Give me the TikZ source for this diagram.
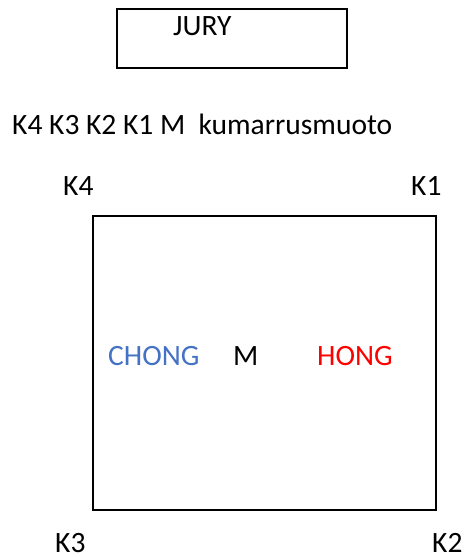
\documentclass[tikz,border=0pt]{standalone}
\usepackage{fontspec}
\setmainfont{Carlito}
\definecolor{chongblue}{HTML}{4472C4}
\definecolor{hongred}{HTML}{FF0000}
\begin{document}
\begin{tikzpicture}[x=1pt,y=-1pt]
        \tikzset{every node/.style={inner sep=0pt,anchor=base west,text depth=0pt,font=\fontsize{29.5}{35}\selectfont}}
        \useasboundingbox (0,0) rectangle (464,557);
        % jury
        \draw [black,line width=2pt] (117,9) rectangle (347,68);
        \node (jury) at (173,35) {JURY};
        % order of bowing
        \node (order) at (12,134) {K4 K3 K2 K1 M\ \ kumarrusmuoto};
        % corners
        \node (k4) at (63,195) {K4};
        \node (k1) at (411,195) {K1};
        \node (k3) at (55,552) {K3};
        \node (k2) at (432,552) {K2};
        % mat
        \draw [black,line width=2pt] (93,216) rectangle (436,510);
        \node [text=chongblue] (chong) at (108,365) {CHONG};
        \node (m) at (233,365) {M};
        \node [text=hongred] (hong) at (317,365) {HONG};
\end{tikzpicture}
\end{document}
